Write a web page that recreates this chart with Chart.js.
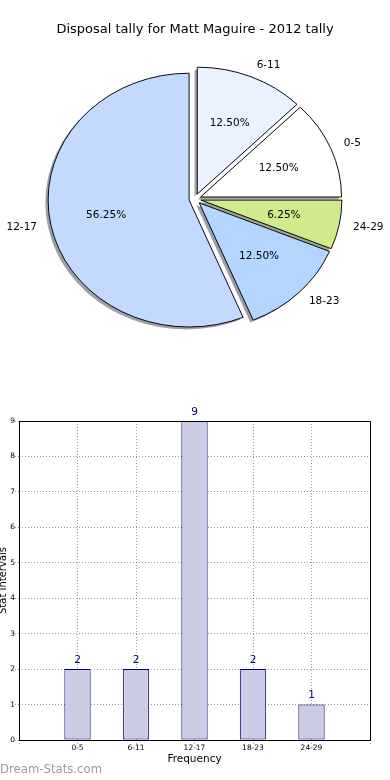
<!DOCTYPE html>
<html>
<head>
<meta charset="utf-8">
<script src="https://cdn.jsdelivr.net/npm/chart.js@4.4.1/dist/chart.umd.min.js"></script>
<style>
  body { margin: 0; background: #fff; }
  #wrap { position: relative; width: 390px; height: 780px; }
  canvas { display: block; }
  #mark { position: absolute; left: 0; top: 762px; font: 11.7px "DejaVu Sans"; color: #9a9a9a; }
</style>
</head>
<body>
<div id="wrap">
  <canvas id="pieChart" width="390" height="390"></canvas>
  <canvas id="barChart" width="390" height="390"></canvas>
  <div id="mark">Dream-Stats.com</div>
</div>
<script>
// data
var categories = ['0-5', '6-11', '12-17', '18-23', '24-29'];
var tally = [2, 2, 9, 2, 1];
var sliceColors = ['#ffffff', '#eaf1ff', '#c4d9ff', '#b3d5ff', '#cfeb8b'];
var chartTitle = 'Disposal tally for Matt Maguire - 2012 tally';

Chart.defaults.font.family = 'DejaVu Sans';
Chart.defaults.color = '#000';

var explode = 6;     // px the slices are pulled out
var squash = 0.9;    // the pie is a bit wider than tall

function pieTransform(ctx, cx, cy) {
	// mirror so slices go counterclockwise from east, and squash vertically
	ctx.translate(cx, cy);
	ctx.scale(1, -squash);
	ctx.translate(-cx, -cy);
}

var piePlugin = {
	id: 'piePlugin',
	afterUpdate: function(chart) {
		var arcs = chart.getDatasetMeta(0).data;
		chart.$center = {x: arcs[0].x, y: arcs[0].y};
		arcs.forEach(function(arc) {
			var mid = (arc.startAngle + arc.endAngle) / 2;
			arc.x += Math.cos(mid) * explode;
			arc.y += Math.sin(mid) * explode;
		});
	},
	beforeDatasetsDraw: function(chart) {
		var ctx = chart.ctx, c = chart.$center;
		var arcs = chart.getDatasetMeta(0).data;
		// shadows first
		ctx.save();
		ctx.translate(-2.8, 2.5);
		pieTransform(ctx, c.x, c.y);
		arcs.forEach(function(arc, i) {
			var col = Chart.helpers.color(sliceColors[i]).rgb;
			ctx.fillStyle = 'rgba(' + Math.round(col.r * 0.3) + ',' + Math.round(col.g * 0.3) + ',' + Math.round(col.b * 0.3) + ',0.5)';
			ctx.beginPath();
			ctx.moveTo(arc.x, arc.y);
			ctx.arc(arc.x, arc.y, arc.outerRadius, arc.startAngle, arc.endAngle);
			ctx.closePath();
			ctx.fill();
		});
		ctx.restore();
		ctx.save();
		pieTransform(ctx, c.x, c.y);
	},
	afterDatasetsDraw: function(chart) {
		var ctx = chart.ctx, c = chart.$center;
		ctx.restore();
		var arcs = chart.getDatasetMeta(0).data;
		var total = tally.reduce(function(a, b) { return a + b; }, 0);
		ctx.save();
		ctx.font = '10.5px "DejaVu Sans"';
		ctx.fillStyle = '#000';
		ctx.textBaseline = 'middle';
		arcs.forEach(function(arc, i) {
			var mid = (arc.startAngle + arc.endAngle) / 2;
			var R = arc.outerRadius;
			var dx = Math.cos(mid), dy = Math.sin(mid);
			var d = explode + 0.6 * R;
			ctx.textAlign = 'center';
			ctx.fillText((tally[i] / total * 100).toFixed(2) + '%', c.x + d * dx, c.y - squash * d * dy);
			d = explode + 1.1 * R;
			ctx.textAlign = dx > 0 ? 'left' : 'right';
			ctx.fillText(categories[i], c.x + d * dx, c.y - squash * d * dy);
		});
		ctx.restore();
	}
};

new Chart(document.getElementById('pieChart'), {
	type: 'pie',
	data: {
		labels: categories,
		datasets: [{
			data: tally,
			backgroundColor: sliceColors,
			borderColor: '#000',
			borderWidth: 1,
			clip: false
		}]
	},
	options: {
		responsive: false,
		animation: false,
		events: [],
		rotation: 90,
		radius: 141,
		layout: { padding: { left: 53.5, right: 53.5, top: 0, bottom: 49.5 } },
		plugins: {
			legend: { display: false },
			tooltip: { enabled: false },
			title: {
				display: true,
				text: chartTitle,
				font: { size: 13, weight: 'normal' },
				color: '#000',
				padding: { top: 22, bottom: 20 }
			}
		}
	},
	plugins: [piePlugin]
});

// bar chart
var gridStyle = {
	color: 'rgba(0,0,0,0.4)',
	lineWidth: 1,
	offset: false,
	tickBorderDash: [1, 2],
	tickLength: 4
};
var gridBorder = { display: false, dash: [1, 2] };

var barPlugin = {
	id: 'barPlugin',
	afterDraw: function(chart) {
		var ctx = chart.ctx, a = chart.chartArea;
		ctx.save();
		ctx.strokeStyle = '#000';
		ctx.lineWidth = 1;
		ctx.strokeRect(Math.round(a.left) + 0.5, Math.round(a.top) + 0.5, Math.round(a.right - a.left), Math.round(a.bottom - a.top));
		ctx.font = '10.5px "DejaVu Sans"';
		ctx.fillStyle = '#000080';
		ctx.textAlign = 'center';
		ctx.textBaseline = 'middle';
		chart.getDatasetMeta(0).data.forEach(function(bar, i) {
			ctx.fillText(String(tally[i]), bar.x, bar.y - 9);
		});
		ctx.restore();
	}
};

new Chart(document.getElementById('barChart'), {
	type: 'bar',
	data: {
		datasets: [{
			data: categories.map(function(c, i) { return {x: i, y: tally[i]}; }),
			backgroundColor: 'rgb(204,204,228)',
			borderColor: '#000080',
			borderWidth: 1,
			borderSkipped: false,
			barPercentage: 0.45,
			categoryPercentage: 1
		}]
	},
	options: {
		responsive: false,
		animation: false,
		events: [],
		layout: { padding: { left: 0, right: 20, top: 31, bottom: 0 } },
		plugins: { legend: { display: false }, tooltip: { enabled: false } },
		scales: {
			x: {
				type: 'linear',
				min: -1,
				max: categories.length,
				offset: false,
				z: 1,
				grid: gridStyle,
				border: gridBorder,
				ticks: {
					stepSize: 1,
					autoSkip: false,
					maxRotation: 0,
					padding: 0,
					font: { size: 7.5 },
					callback: function(v) { return categories[v] || ''; }
				},
				title: { display: true, text: 'Frequency', font: { size: 10.5 }, padding: { top: 0, bottom: 14 } },
				afterFit: function(s) { s.height = 40; }
			},
			y: {
				min: 0,
				max: 9,
				z: 1,
				grid: gridStyle,
				border: gridBorder,
				ticks: { stepSize: 1, padding: 0, font: { size: 7.5 } },
				title: { display: true, text: 'Stat Intervals', font: { size: 10 }, padding: { top: -3, bottom: 0 } },
				afterFit: function(s) { s.width = 19; }
			}
		}
	},
	plugins: [barPlugin]
});
</script>
</body>
</html>
